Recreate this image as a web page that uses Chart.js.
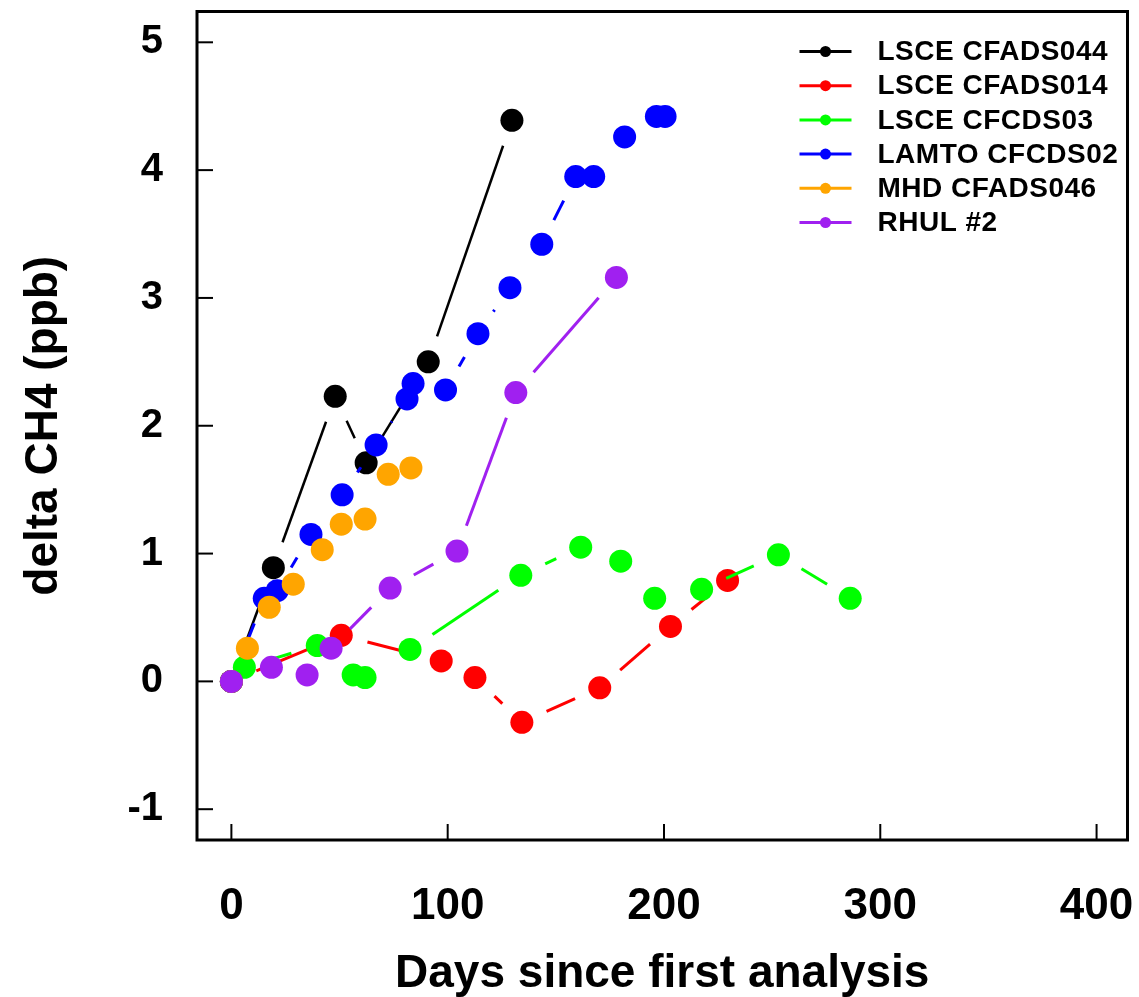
<!DOCTYPE html>
<html>
<head>
<meta charset="utf-8">
<title>delta CH4 drift</title>
<script src="https://cdn.jsdelivr.net/npm/chart.js@4.4.1/dist/chart.umd.min.js"></script>
<style>
  html, body { margin: 0; padding: 0; background: #fff; }
</style>
</head>
<body>
<canvas id="chart" width="1139" height="997"></canvas>
<script>
// values: days since first analysis / delta CH4 (ppb)
const seriesLabels = ['LSCE CFADS044', 'LSCE CFADS014', 'LSCE CFCDS03', 'LAMTO CFCDS02', 'MHD CFADS046', 'RHUL #2'];
const seriesColors = ['#000000', '#ff0000', '#00ff00', '#0000ff', '#ffa500', '#a020f0'];

const cfads044Days  = [0, 19.4, 48.0, 62.3, 91.0, 129.7];
const cfads044Delta = [0, 0.89, 2.23, 1.71, 2.50, 4.39];

const cfads014Days  = [0, 50.8, 97.0, 112.6, 134.3, 170.3, 203.0, 229.4];
const cfads014Delta = [0, 0.36, 0.16, 0.03, -0.32, -0.05, 0.43, 0.79];

const cfcds03Days  = [0, 6.0, 39.7, 56.3, 61.8, 82.6, 133.8, 161.5, 180.0, 195.7, 217.4, 252.9, 286.1];
const cfcds03Delta = [0, 0.11, 0.28, 0.05, 0.03, 0.25, 0.83, 1.05, 0.94, 0.65, 0.72, 0.99, 0.65];

const lamtoDays  = [0, 15.2, 21.2, 36.8, 51.2, 66.9, 81.2, 84.0, 99.0, 114.0, 128.8, 143.5, 159.2, 167.5, 181.8, 196.5, 200.5];
const lamtoDelta = [0, 0.65, 0.71, 1.15, 1.46, 1.85, 2.21, 2.33, 2.28, 2.72, 3.08, 3.42, 3.95, 3.95, 4.26, 4.42, 4.42];

const mhdDays  = [0, 7.4, 17.5, 28.6, 42.0, 50.8, 61.8, 72.5, 83.0];
const mhdDelta = [0, 0.26, 0.58, 0.76, 1.03, 1.23, 1.27, 1.62, 1.67];

const rhulDays  = [0, 18.5, 35.0, 46.1, 73.4, 104.3, 131.5, 178.0];
const rhulDelta = [0, 0.11, 0.05, 0.26, 0.73, 1.02, 2.26, 3.16];

const xTickValues = [0, 100, 200, 300, 400];
const yTickValues = [-1, 0, 1, 2, 3, 4, 5];

const allDays = [cfads044Days, cfads014Days, cfcds03Days, lamtoDays, mhdDays, rhulDays];
const allDelta = [cfads044Delta, cfads014Delta, cfcds03Delta, lamtoDelta, mhdDelta, rhulDelta];
const drawOrder = [6, 5, 4, 3, 2, 1]; // purple on top, black at the bottom

const GAP = 27; // lines stop short of each symbol, like the original plot
const FONT = '"Liberation Sans", Arial, sans-serif';

const datasets = seriesLabels.map((label, i) => ({
    label: label,
    data: allDays[i].map((d, j) => ({ x: d, y: allDelta[i][j] })),
    showLine: false,
    borderColor: seriesColors[i],
    backgroundColor: seriesColors[i],
    pointBackgroundColor: seriesColors[i],
    pointBorderWidth: 0,
    pointRadius: 11.5,
    lineW: i === 0 ? 2.5 : 3,
    order: drawOrder[i]
}));

// connecting lines with a gap at both ends
const gapLines = {
    id: 'gapLines',
    beforeDatasetDraw(chart, args) {
        const ds = chart.data.datasets[args.index];
        const pts = args.meta.data;
        const a = chart.chartArea;
        const ctx = chart.ctx;
        ctx.save();
        ctx.beginPath();
        ctx.rect(a.left, a.top, a.right - a.left, a.bottom - a.top);
        ctx.clip();
        ctx.strokeStyle = ds.borderColor;
        ctx.lineWidth = ds.lineW;
        for (let i = 1; i < pts.length; i++) {
            const p0 = pts[i - 1], p1 = pts[i];
            const dx = p1.x - p0.x, dy = p1.y - p0.y;
            const d = Math.hypot(dx, dy);
            if (d <= 2 * GAP) continue;
            const ux = dx / d, uy = dy / d;
            ctx.beginPath();
            ctx.moveTo(p0.x + ux * GAP, p0.y + uy * GAP);
            ctx.lineTo(p1.x - ux * GAP, p1.y - uy * GAP);
            ctx.stroke();
        }
        ctx.restore();
    }
};

// box frame and inward tick marks
const frame = {
    id: 'frame',
    afterDraw(chart) {
        const a = chart.chartArea;
        const ctx = chart.ctx;
        ctx.save();
        ctx.strokeStyle = '#000';
        ctx.lineWidth = 2;
        xTickValues.forEach(v => {
            const x = chart.scales.x.getPixelForValue(v);
            ctx.beginPath();
            ctx.moveTo(x, a.bottom);
            ctx.lineTo(x, a.bottom - 16);
            ctx.stroke();
        });
        yTickValues.forEach(v => {
            const y = chart.scales.y.getPixelForValue(v);
            ctx.beginPath();
            ctx.moveTo(a.left, y);
            ctx.lineTo(a.left + 16, y);
            ctx.stroke();
        });
        ctx.lineWidth = 3;
        ctx.strokeRect(a.left, a.top, a.right - a.left, a.bottom - a.top);
        ctx.restore();
    }
};

// legend in the top right corner: line + symbol + label
const legendBox = {
    id: 'legendBox',
    afterDraw(chart) {
        const a = chart.chartArea;
        const ctx = chart.ctx;
        const x0 = a.right - 328;
        const y0 = a.top + 40;
        const rowH = 34.2;
        ctx.save();
        ctx.font = 'bold 28px ' + FONT;
        ctx.letterSpacing = '0.5px';
        ctx.textBaseline = 'middle';
        chart.data.datasets.forEach((ds, i) => {
            const y = y0 + i * rowH;
            ctx.strokeStyle = ds.borderColor;
            ctx.lineWidth = 3;
            ctx.beginPath();
            ctx.moveTo(x0, y);
            ctx.lineTo(x0 + 52, y);
            ctx.stroke();
            ctx.fillStyle = ds.borderColor;
            ctx.beginPath();
            ctx.arc(x0 + 26, y, 5.5, 0, Math.PI * 2);
            ctx.fill();
            ctx.fillStyle = '#000';
            ctx.fillText(ds.label, x0 + 78, y + 1);
        });
        ctx.restore();
    }
};

new Chart(document.getElementById('chart'), {
    type: 'scatter',
    data: { datasets: datasets },
    options: {
        responsive: false,
        animation: false,
        devicePixelRatio: 1,
        layout: { padding: { top: 7, right: 9, left: 0, bottom: 0 } },
        plugins: {
            legend: { display: false },
            tooltip: { enabled: false }
        },
        scales: {
            x: {
                type: 'linear',
                min: -15.9,
                max: 414.3,
                grid: { display: false },
                border: { display: false },
                afterBuildTicks: s => { s.ticks = xTickValues.map(v => ({ value: v })); },
                afterFit: s => {
                    s.height = 157;
                    s.paddingLeft = 0;
                    s.paddingRight = 0;
                },
                ticks: {
                    color: '#000',
                    padding: 37,
                    maxRotation: 0,
                    font: { family: FONT, size: 44, weight: 'bold', lineHeight: 1 }
                },
                title: {
                    display: true,
                    text: 'Days since first analysis',
                    color: '#000',
                    padding: { top: 5, bottom: 0 },
                    font: { family: FONT, size: 46, weight: 'bold', lineHeight: 1 }
                }
            },
            y: {
                type: 'linear',
                min: -1.241,
                max: 5.241,
                grid: { display: false },
                border: { display: false },
                afterBuildTicks: s => { s.ticks = yTickValues.map(v => ({ value: v })); },
                afterFit: s => {
                    s.width = 197;
                    s.paddingTop = 0;
                    s.paddingBottom = 0;
                },
                ticks: {
                    color: '#000',
                    padding: 26,
                    font: { family: FONT, size: 40, weight: 'bold', lineHeight: 1 }
                },
                title: {
                    display: true,
                    text: 'delta CH4 (ppb)',
                    color: '#000',
                    padding: { top: 21, bottom: 0 },
                    font: { family: FONT, size: 46, weight: 'bold', lineHeight: 1 }
                }
            }
        }
    },
    plugins: [gapLines, frame, legendBox]
});
</script>
</body>
</html>
